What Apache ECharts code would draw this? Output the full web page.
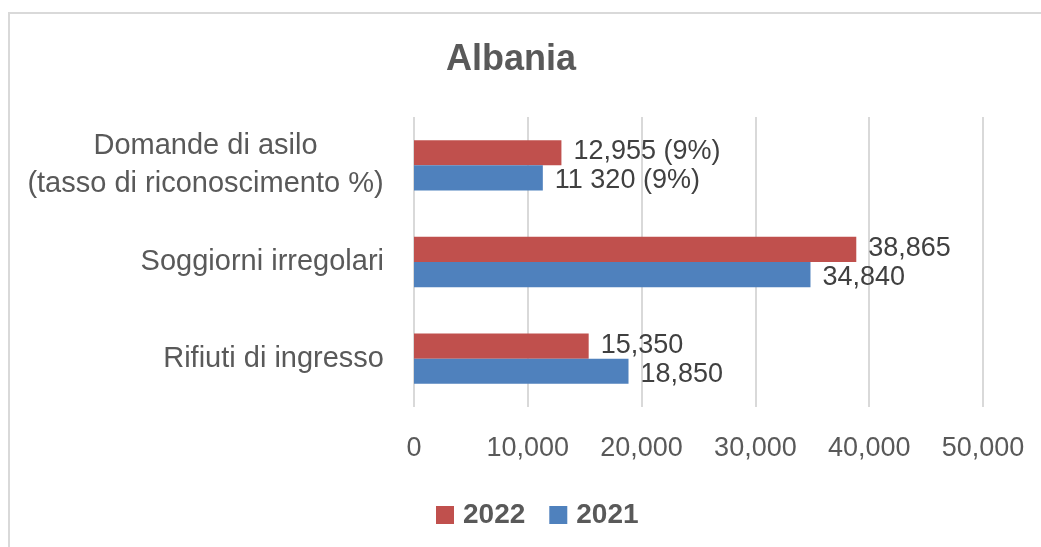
<!DOCTYPE html>
<html>
<head>
<meta charset="utf-8">
<script src="https://cdn.jsdelivr.net/npm/echarts@6/dist/echarts.min.js"></script>
<style>
html,body{margin:0;padding:0;background:#fff;}
#frame{position:absolute;left:8px;top:12px;width:1100px;height:600px;border-left:2px solid #D9D9D9;border-top:2px solid #D9D9D9;box-sizing:border-box;}
#chart{position:absolute;left:0;top:0;width:1041px;height:547px;}
</style>
</head>
<body>
<div id="frame"></div>
<div id="chart"></div>
<script>
const categories = ['Domande di asilo\n(tasso di riconoscimento %)', 'Soggiorni irregolari', 'Rifiuti di ingresso'];
const values2022 = [12955, 38865, 15350];
const values2021 = [11320, 34840, 18850];
const labels2022 = ['12,955 (9%)', '38,865', '15,350'];
const labels2021 = ['11 320 (9%)', '34,840', '18,850'];
const xTicks = { min: 0, max: 50000, interval: 10000 };

const FONT = '"Liberation Sans", Arial, sans-serif';
const chart = echarts.init(document.getElementById('chart'), null, { renderer: 'canvas' });
chart.setOption({
  animation: false,
  backgroundColor: 'transparent',
  title: {
    text: 'Albania', left: 506, top: 37, textAlign: 'center',
    textStyle: { fontFamily: FONT, fontSize: 36, fontWeight: 'bold', color: '#595959' }
  },
  legend: {
    data: ['2022', '2021'], left: 431, top: 496, itemWidth: 18, itemHeight: 18, itemGap: 24,
    icon: 'rect',
    textStyle: { fontFamily: FONT, fontSize: 28, fontWeight: 'bold', color: '#595959', padding: [0, 0, 0, 4] }
  },
  grid: { left: 414, right: 58, top: 117, bottom: 140, containLabel: false },
  xAxis: {
    type: 'value', min: xTicks.min, max: xTicks.max, interval: xTicks.interval,
    axisLine: { show: false }, axisTick: { show: false },
    splitLine: { lineStyle: { color: '#D9D9D9', width: 2 } },
    axisLabel: {
      margin: 28, fontFamily: FONT, fontSize: 27, color: '#595959',
      formatter: v => v.toLocaleString('en-US')
    }
  },
  yAxis: {
    type: 'category', data: categories, inverse: true,
    axisLine: { show: false }, axisTick: { show: false },
    axisLabel: {
      margin: 30, fontFamily: FONT, fontSize: 29, color: '#595959', lineHeight: 38,
      formatter: v => v.indexOf('\n') >= 0 ? v.split('\n').map(s => '{c|' + s + '}').join('\n') : v,
      rich: { c: { width: 357, align: 'center', fontFamily: FONT, fontSize: 29, color: '#595959', lineHeight: 38 } }
    }
  },
  series: [
    {
      name: '2022', type: 'bar', data: values2022, barGap: '0%', barCategoryGap: '48%',
      itemStyle: { color: '#C0504D' },
      label: {
        show: true, position: 'right', distance: 12, offset: [0, -1],
        fontFamily: FONT, fontSize: 27, color: '#404040',
        formatter: p => labels2022[p.dataIndex]
      }
    },
    {
      name: '2021', type: 'bar', data: values2021, barGap: '0%', barCategoryGap: '48%',
      itemStyle: { color: '#4F81BD' },
      label: {
        show: true, position: 'right', distance: 12, offset: [0, 3],
        fontFamily: FONT, fontSize: 27, color: '#404040',
        formatter: p => labels2021[p.dataIndex]
      }
    }
  ]
});
</script>
</body>
</html>
